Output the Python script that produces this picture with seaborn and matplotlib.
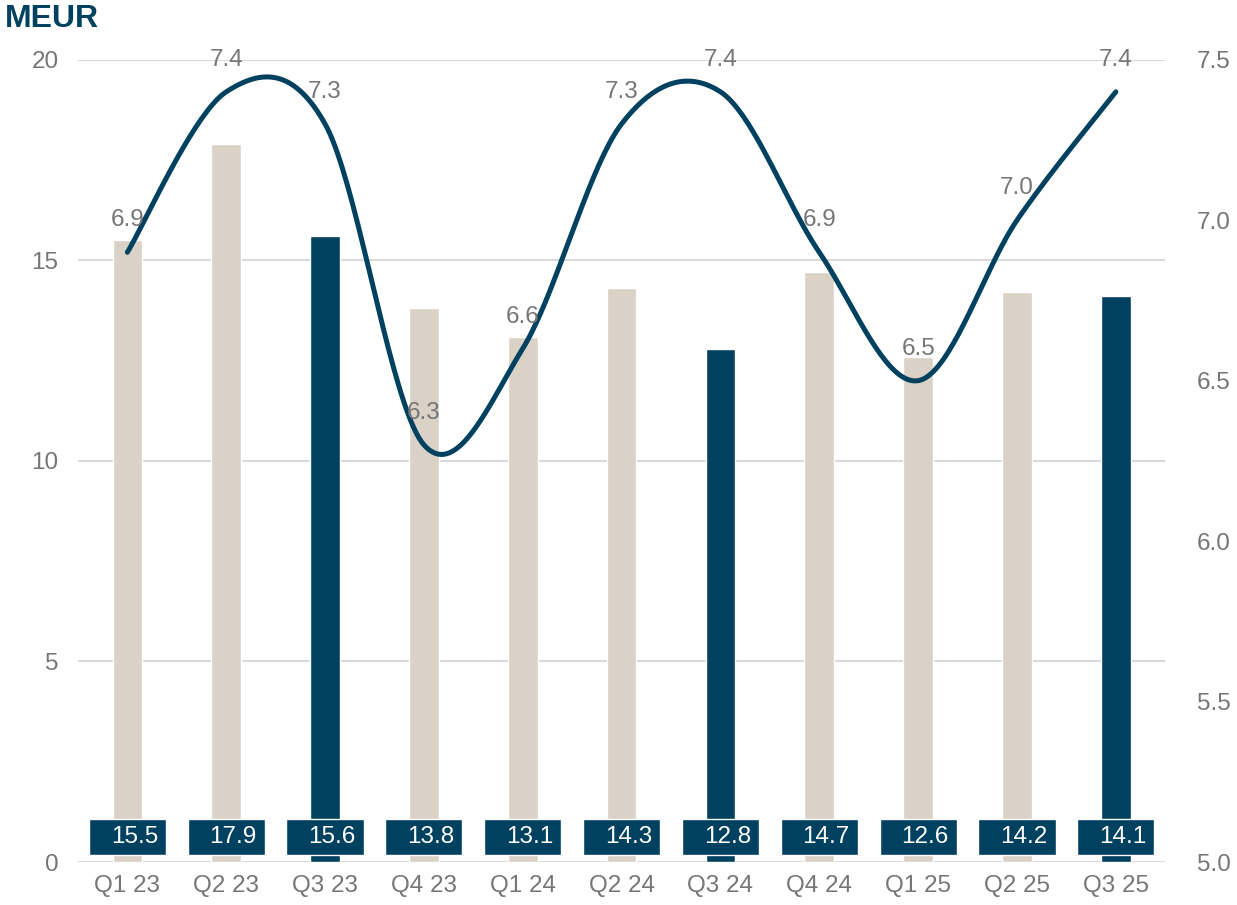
import numpy as np
import matplotlib
matplotlib.use("Agg")
import matplotlib.pyplot as plt
import seaborn as sns

quarters = ["Q1 23", "Q2 23", "Q3 23", "Q4 23", "Q1 24", "Q2 24",
            "Q3 24", "Q4 24", "Q1 25", "Q2 25", "Q3 25"]
bar_values = [15.5, 17.9, 15.6, 13.8, 13.1, 14.3, 12.8, 14.7, 12.6, 14.2, 14.1]
line_values = [6.9, 7.4, 7.3, 6.3, 6.6, 7.3, 7.4, 6.9, 6.5, 7.0, 7.4]
left_ticks = [0, 5, 10, 15, 20]
right_ticks = [5.0, 5.5, 6.0, 6.5, 7.0, 7.5]

NAVY = "#00415F"
BEIGE = "#DAD2C6"
GRAY = "#767676"
GRID = "#D9D9D9"
FS = 17.5


def smooth(xs, ys, n=40):
    # Excel-like smoothed line: cubic Bezier with Catmull-Rom control points
    xs = np.asarray(xs, float)
    ys = np.asarray(ys, float)
    px = np.concatenate([[xs[0]], xs, [xs[-1]]])
    py = np.concatenate([[ys[0]], ys, [ys[-1]]])
    out_x, out_y = [], []
    t = np.linspace(0, 1, n)
    for i in range(1, len(px) - 2):
        p0 = np.array([px[i], py[i]])
        p3 = np.array([px[i + 1], py[i + 1]])
        c1 = p0 + (np.array([px[i + 1], py[i + 1]]) - np.array([px[i - 1], py[i - 1]])) / 6
        c2 = p3 - (np.array([px[i + 2], py[i + 2]]) - np.array([px[i], py[i]])) / 6
        b = (np.outer((1 - t) ** 3, p0) + np.outer(3 * (1 - t) ** 2 * t, c1)
             + np.outer(3 * (1 - t) * t ** 2, c2) + np.outer(t ** 3, p3))
        out_x.extend(b[:, 0])
        out_y.extend(b[:, 1])
    return np.array(out_x), np.array(out_y)


sns.set_style("white")
plt.rcParams["font.family"] = ["Liberation Sans", "DejaVu Sans"]

fig = plt.figure(figsize=(12.37, 9.05), dpi=100)
ax = fig.add_axes([0.063, 0.0475, 0.879, 0.8865])

colors = [NAVY if q.startswith("Q3") else BEIGE for q in quarters]
sns.barplot(x=quarters, y=bar_values, hue=quarters, palette=colors,
            legend=False, width=0.3, saturation=1, ax=ax, zorder=2)

ax.set_xlim(-0.5, len(quarters) - 0.5)
ax.set_ylim(0, 20)
ax.set_yticks(left_ticks)
ax.set_yticklabels([str(v) for v in left_ticks])
ax.yaxis.grid(True, color=GRID, linewidth=1.5, zorder=0)
ax.set_axisbelow(True)
for s in ax.spines.values():
    s.set_visible(False)
ax.tick_params(axis="both", length=0, labelsize=FS, colors=GRAY)
ax.tick_params(axis="x", pad=9)
ax.tick_params(axis="y", pad=14)
ax.set_xlabel("")
ax.set_ylabel("")

# value boxes at the bottom of each bar
xpos = np.arange(len(quarters))
ax.bar(xpos, [0.9] * len(quarters), bottom=0.17, width=0.78, color=NAVY, zorder=3)
for i, v in enumerate(bar_values):
    ax.text(i + 0.07, 0.62, f"{v:.1f}", ha="center", va="center",
            color="white", fontsize=FS, zorder=4)

# line on secondary axis
ax2 = ax.twinx()
sx, sy = smooth(xpos, line_values)
sns.lineplot(x=sx, y=sy, sort=False, color=NAVY, linewidth=3.6, ax=ax2,
             solid_capstyle="round")
ax2.set_ylim(5.0, 7.5)
ax2.set_yticks(right_ticks)
ax2.set_yticklabels([f"{v:.1f}" for v in right_ticks])
ax2.tick_params(axis="y", length=0, labelsize=FS, colors=GRAY, pad=23)
for s in ax2.spines.values():
    s.set_visible(False)
ax2.set_ylabel("")
ax2.grid(False)
for i, v in enumerate(line_values):
    ax2.annotate(f"{v:.1f}", (i, v), xytext=(0, 23), textcoords="offset points",
                 ha="center", va="center", color=GRAY, fontsize=FS)

fig.text(0.004, 0.979, "MEUR", fontsize=23, fontweight="bold", color=NAVY,
         ha="left", va="center")

fig.savefig("out.png", dpi=100)
